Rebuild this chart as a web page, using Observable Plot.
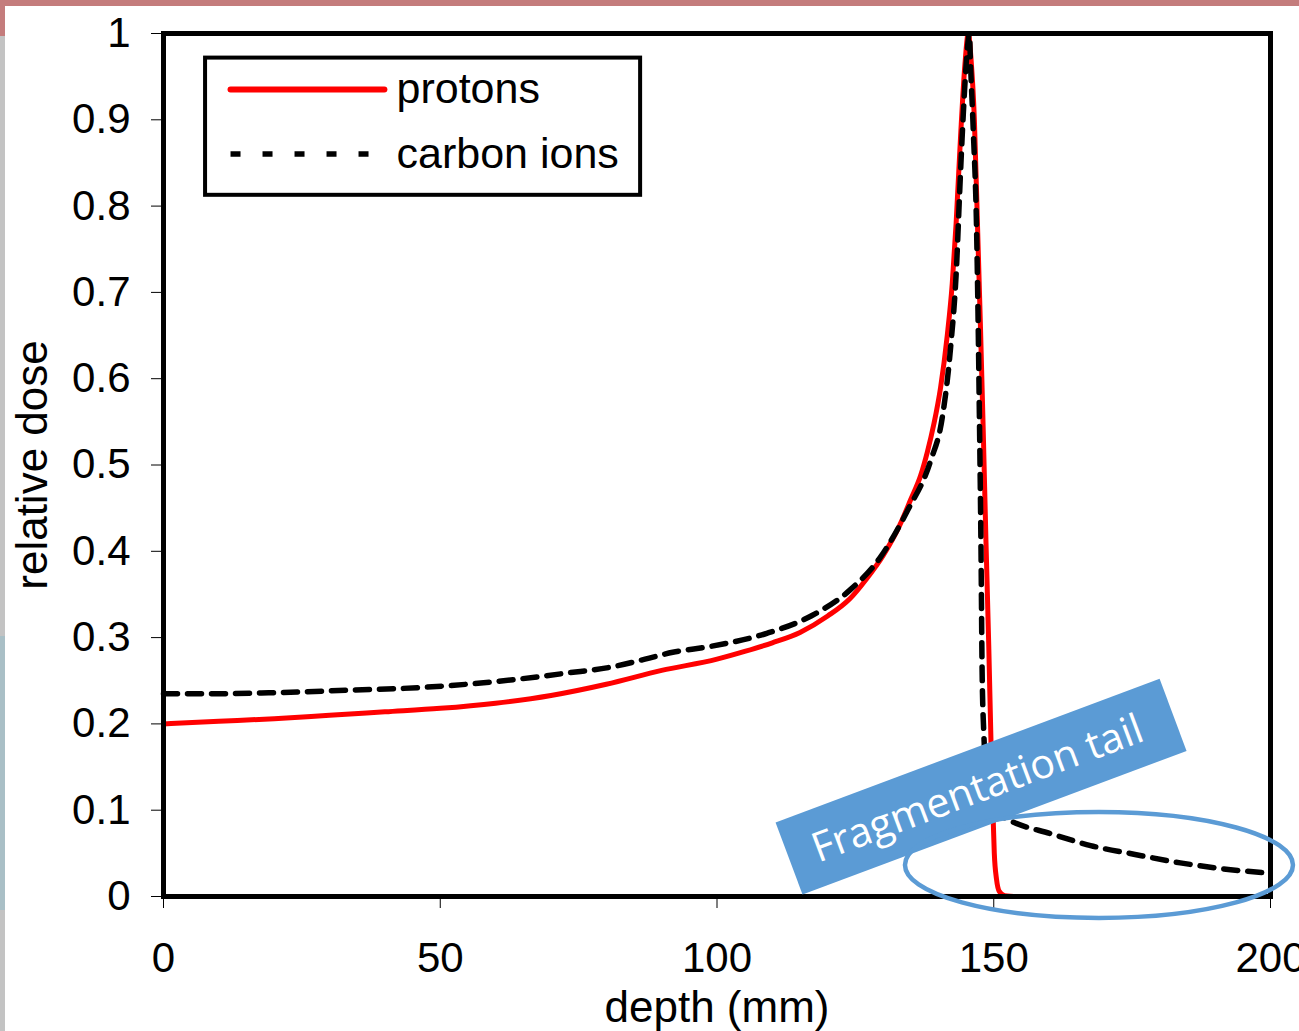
<!DOCTYPE html>
<html>
<head>
<meta charset="utf-8">
<script src="https://cdn.jsdelivr.net/npm/d3@7"></script>
<script src="https://cdn.jsdelivr.net/npm/@observablehq/plot@0.6"></script>
<style>
  html, body { margin: 0; padding: 0; background: #fff; overflow: hidden; }
  #wrap { position: relative; width: 1299px; height: 1031px; overflow: hidden; }
  #topbar { position: absolute; left: 0; top: 0; width: 1299px; height: 6px; background: #c47c7c; }
  #leftbar { position: absolute; left: 0; top: 6px; width: 5px; height: 1025px; background: #c3c3c3; }
  #leftpink { position: absolute; left: 0; top: 0; width: 5px; height: 36px; background: #c47c7c; }
  #leftblue { position: absolute; left: 0; top: 636px; width: 5px; height: 274px; background: #a9bfc6; }
  #chart { position: absolute; left: 0; top: 0; }
</style>
</head>
<body>
<div id="wrap">
  <div id="chart"></div>
  <div id="topbar"></div>
  <div id="leftbar"></div>
  <div id="leftpink"></div>
  <div id="leftblue"></div>
</div>
<script>
// ---- data ----
const protonDepth = [0, 10, 20, 30, 40, 50, 60, 70, 80, 90, 100, 105, 110, 115, 120, 124, 127, 130, 133, 135, 136.8, 138, 139.2, 140.4, 141.6, 142.5, 143.2, 144, 144.8, 145.4, 145.9, 146.5, 147.1, 147.6, 148.1, 148.6, 149.1, 149.5, 149.8, 150.1, 150.5, 151, 152, 154.5];
const protonDose  = [0.200, 0.203, 0.206, 0.210, 0.214, 0.218, 0.224, 0.233, 0.246, 0.262, 0.275, 0.284, 0.294, 0.306, 0.325, 0.345, 0.368, 0.395, 0.430, 0.460, 0.488, 0.515, 0.548, 0.590, 0.650, 0.710, 0.780, 0.880, 0.965, 1.000, 0.970, 0.900, 0.770, 0.660, 0.540, 0.410, 0.290, 0.180, 0.110, 0.050, 0.020, 0.006, 0.001, 0];

const carbonDepth = [0, 10, 19, 33, 46, 60, 73, 81, 87, 92, 99, 109, 117, 124, 129.5, 134.4, 138.6, 140.7, 142.2, 143.3, 143.8, 144.5, 145.2, 145.6, 145.8, 146.3, 146.9, 147.2, 147.4, 147.7, 147.9, 148.2, 148.7, 149.3, 150.5, 152, 153.6, 160.2, 167.5, 175.3, 183.7, 191.5, 200];
const carbonDose  = [0.235, 0.235, 0.236, 0.239, 0.242, 0.249, 0.259, 0.266, 0.275, 0.283, 0.290, 0.305, 0.325, 0.355, 0.393, 0.447, 0.505, 0.555, 0.636, 0.733, 0.810, 0.907, 0.980, 1.000, 0.965, 0.888, 0.772, 0.656, 0.560, 0.400, 0.260, 0.190, 0.140, 0.110, 0.097, 0.091, 0.086, 0.073, 0.059, 0.049, 0.039, 0.032, 0.027];

const seriesNames = ["protons", "carbon ions"];
const xTicks = [0, 50, 100, 150, 200];
const yTicks = [0, 0.1, 0.2, 0.3, 0.4, 0.5, 0.6, 0.7, 0.8, 0.9, 1];
const xLabel = "depth (mm)";
const yLabel = "relative dose";
const annotationText = "Fragmentation tail";

// ---- tables built from the arrays ----
const protons = protonDepth.map((d, i) => ({depth: d, dose: protonDose[i]}));
const carbon = carbonDepth.map((d, i) => ({depth: d, dose: carbonDose[i]}));

const BLUE = "#5b9bd5";
const FONT = "'Liberation Sans', Arial, sans-serif";

// legend (placed in data space, upper left)
const legendRows = [{name: seriesNames[0], y: 0.935}, {name: seriesNames[1], y: 0.8605}];

// rotated callout box behind text
const calloutBox = (index, {x, y}) => {
  const cx = x(147.8), cy = y(0.1267);
  const g = d3.create("svg:g");
  g.append("rect")
    .attr("x", -205).attr("y", -38.5).attr("width", 410).attr("height", 77)
    .attr("fill", BLUE)
    .attr("transform", `translate(${cx},${cy}) rotate(-20.5)`);
  return g.node();
};
// highlight ellipse around the tail
const tailEllipse = (index, {x, y}) => {
  const cx = x(169.1), cy = y(0.036);
  const rx = x(169.1 + 35.05) - cx, ry = cy - y(0.036 + 0.0614);
  const g = d3.create("svg:g");
  g.append("ellipse")
    .attr("cx", cx).attr("cy", cy).attr("rx", rx).attr("ry", ry)
    .attr("fill", "none").attr("stroke", BLUE).attr("stroke-width", 4.5);
  return g.node();
};

const chart = Plot.plot({
  width: 1299,
  height: 1031,
  marginLeft: 163,
  marginRight: 29,
  marginTop: 33,
  marginBottom: 135,
  style: {fontFamily: FONT, fontSize: "42px", color: "black", background: "transparent"},
  x: {domain: [0, 200], ticks: xTicks, tickSize: 12, tickPadding: 34, tickFormat: d => String(d), label: null},
  y: {domain: [0, 1], ticks: yTicks, tickSize: 12, tickPadding: 21, tickFormat: d => String(+d.toFixed(1)), label: null},
  marks: [
    Plot.line(protons, {x: "depth", y: "dose", stroke: "#ff0000", strokeWidth: 5, curve: "monotone-x"}),
    Plot.line(carbon, {x: "depth", y: "dose", stroke: "black", strokeWidth: 5.5, strokeDasharray: "14,10", curve: "monotone-x"}),
    Plot.frame({stroke: "black", strokeWidth: 5}),
    // legend
    Plot.rect([0], {x1: 7.6, x2: 86.2, y1: 0.8125, y2: 0.9715, fill: "white", stroke: "black", strokeWidth: 4}),
    Plot.ruleY([legendRows[0]], {y: "y", x1: 12.2, x2: 40.0, stroke: "#ff0000", strokeWidth: 6, strokeLinecap: "round"}),
    Plot.ruleY([legendRows[1]], {y: "y", x1: 12.2, x2: 40.0, stroke: "black", strokeWidth: 5.5, strokeDasharray: "10,22"}),
    Plot.text(legendRows, {x: 42.1, y: "y", text: "name", textAnchor: "start", fontSize: 43, fill: "black"}),
    // axis titles
    Plot.text([xLabel], {frameAnchor: "bottom", textAnchor: "middle", lineAnchor: "bottom", dy: 125, fontSize: 44, fill: "black"}),
    Plot.text([yLabel], {frameAnchor: "left", textAnchor: "middle", lineAnchor: "bottom", rotate: -90, dx: -117, fontSize: 44, fill: "black"}),
    // annotation
    calloutBox,
    Plot.text([annotationText], {x: 147.8, y: 0.1267, text: d => d, rotate: -20.5, fill: "white", fontSize: 41, fontFamily: "'Open Sans', sans-serif", dx: -4, dy: 2}),
    tailEllipse
  ]
});
document.getElementById("chart").appendChild(chart);
</script>
</body>
</html>
